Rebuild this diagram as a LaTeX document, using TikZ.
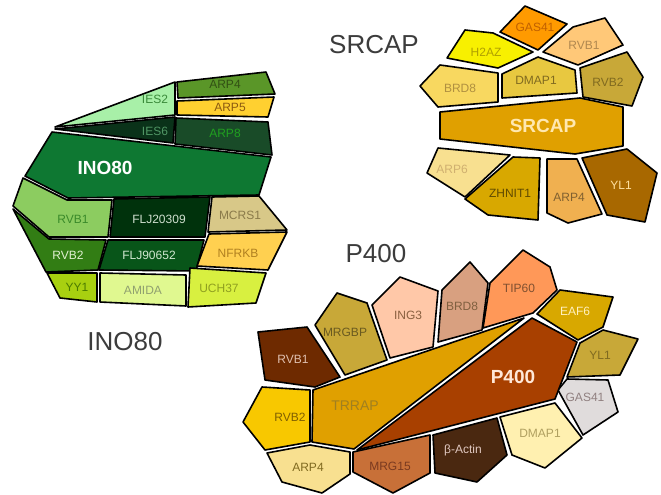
\documentclass[tikz,border=0pt]{standalone}
\usepackage{fontspec}
\setmainfont{Liberation Sans}
\definecolor{TitleGray}{RGB}{60,60,60}
% INO80 colours
\definecolor{PaleGreen}{RGB}{168,240,168}
\definecolor{LeafGreen}{RGB}{90,150,40}
\definecolor{Sun}{RGB}{255,208,48}
\definecolor{NightGreen}{RGB}{10,50,25}
\definecolor{PineGreen}{RGB}{25,75,40}
\definecolor{InoGreen}{RGB}{14,120,50}
\definecolor{SoftGreen}{RGB}{140,204,96}
\definecolor{DeepGreen}{RGB}{0,50,12}
\definecolor{Khaki}{RGB}{216,200,136}
\definecolor{GrassGreen}{RGB}{50,125,20}
\definecolor{ForestGreen}{RGB}{8,85,25}
\definecolor{Butter}{RGB}{255,208,80}
\definecolor{Lime}{RGB}{168,208,16}
\definecolor{PaleLime}{RGB}{224,248,144}
\definecolor{Chartreuse}{RGB}{216,240,64}
% SRCAP / P400 colours
\definecolor{Tangerine}{RGB}{255,154,0}
\definecolor{Lemon}{RGB}{248,240,0}
\definecolor{Apricot}{RGB}{255,200,120}
\definecolor{Straw}{RGB}{248,216,96}
\definecolor{Mustard}{RGB}{232,200,64}
\definecolor{Olive}{RGB}{200,168,56}
\definecolor{Amber}{RGB}{224,160,0}
\definecolor{Cream}{RGB}{248,224,144}
\definecolor{Gold}{RGB}{216,168,0}
\definecolor{Caramel}{RGB}{240,176,80}
\definecolor{Ochre}{RGB}{168,104,0}
\definecolor{Chestnut}{RGB}{110,42,0}
\definecolor{Peach}{RGB}{255,200,168}
\definecolor{Tan}{RGB}{216,160,128}
\definecolor{Coral}{RGB}{255,152,88}
\definecolor{Silver}{RGB}{224,220,220}
\definecolor{Vanilla}{RGB}{255,240,176}
\definecolor{Cocoa}{RGB}{74,40,16}
\definecolor{Copper}{RGB}{200,112,56}
\definecolor{Yolk}{RGB}{248,200,0}
\definecolor{Rust}{RGB}{168,64,0}
\tikzset{
  piece/.style={draw=black,line width=1.6pt,line join=round},
  tag/.style={font=\fontsize{12}{12}\selectfont,inner sep=0pt},
  hubtag/.style={font=\bfseries\fontsize{19}{19}\selectfont,text=white,inner sep=0pt},
  heading/.style={font=\fontsize{26}{26}\selectfont,text=TitleGray,inner sep=0pt}
}

\begin{document}
\begin{tikzpicture}[x=1pt,y=-1pt]
\useasboundingbox (0,0) rectangle (661,495);

% INO80 complex
\draw[piece,fill=PaleGreen](175,82)--(175,115)--(55,127)--cycle;
\draw[piece,fill=NightGreen](55,129)--(175,117)--(173,143)--cycle;
\draw[piece,fill=LeafGreen](177,82)--(266,72)--(275,94)--(178,98)--cycle;
\draw[piece,fill=Sun](177,101)--(274,97)--(268,117)--(177,115)--cycle;
\draw[piece,fill=PineGreen](176,118)--(268,122)--(272,155)--(175,144)--cycle;
\draw[piece,fill=InoGreen](52,132)--(271,157)--(259,195)--(68,198)--(25,176)--cycle;
\draw[piece,fill=SoftGreen](23,178)--(67,200)--(112,200)--(108,237)--(49,237)--(13,206)--cycle;
\draw[piece,fill=DeepGreen](114,199)--(210,197)--(205,237)--(110,237)--cycle;
\draw[piece,fill=Khaki](212,197)--(259,196)--(287,230)--(208,232)--cycle;
\draw[piece,fill=GrassGreen](13,209)--(49,239)--(106,240)--(98,270)--(46,272)--cycle;
\draw[piece,fill=ForestGreen](108,240)--(204,240)--(196,271)--(99,270)--cycle;
\draw[piece,fill=Butter](209,234)--(287,232)--(268,270)--(197,266)--cycle;
\draw[piece,fill=Lime](47,273)--(97,273)--(97,302)--(60,298)--cycle;
\draw[piece,fill=PaleLime](100,273)--(186,275)--(186,306)--(100,302)--cycle;
\draw[piece,fill=Chartreuse](190,268)--(266,273)--(256,303)--(188,307)--cycle;

\node[tag,text={rgb,255:red,58;green,138;blue,58}] (inoies2) at (155,99) {IES2};
\node[tag,text={rgb,255:red,50;green,80;blue,20}] (inoarp4) at (225,84) {ARP4};
\node[tag,text={rgb,255:red,140;green,90;blue,16}] (inoarp5) at (230,107) {ARP5};
\node[tag,text={rgb,255:red,80;green,150;blue,100}] (inoies6) at (155,131) {IES6};
\node[tag,text={rgb,255:red,32;green,160;blue,32}] (inoarp8) at (225,133) {ARP8};
\node[hubtag] (inohub) at (105,168) {INO80};
\node[tag,text={rgb,255:red,58;green,138;blue,42}] (inorvb1) at (73,219) {RVB1};
\node[tag,text={rgb,255:red,208;green,224;blue,208}] (inoflja) at (159,219) {FLJ20309};
\node[tag,text={rgb,255:red,138;green,122;blue,74}] (inomcrs) at (240,215) {MCRS1};
\node[tag,text={rgb,255:red,224;green,240;blue,208}] (inorvb2) at (68,255) {RVB2};
\node[tag,text={rgb,255:red,208;green,232;blue,208}] (inofljb) at (149,255) {FLJ90652};
\node[tag,text={rgb,255:red,176;green,128;blue,32}] (inonfrkb) at (238,253) {NFRKB};
\node[tag,text={rgb,255:red,74;green,122;blue,0}] (inoyy1) at (77,287) {YY1};
\node[tag,text={rgb,255:red,144;green,160;blue,112}] (inoamida) at (143,290) {AMIDA};
\node[tag,text={rgb,255:red,144;green,160;blue,32}] (inouch) at (219,288) {UCH37};

% SRCAP complex
\draw[piece,fill=Tangerine](500,32)--(525,6)--(567,24)--(538,50)--cycle;
\draw[piece,fill=Lemon](447,58)--(465,30)--(493,33)--(533,52)--(498,68)--cycle;
\draw[piece,fill=Apricot](543,52)--(573,27)--(605,18)--(623,45)--(578,65)--cycle;
\draw[piece,fill=Straw](420,86)--(440,65)--(498,73)--(498,102)--(438,107)--cycle;
\draw[piece,fill=Mustard](502,74)--(538,57)--(575,70)--(577,93)--(502,98)--cycle;
\draw[piece,fill=Olive](580,68)--(627,52)--(643,77)--(632,106)--(583,97)--cycle;
\draw[piece,fill=Amber](440,112)--(580,98)--(623,107)--(623,146)--(575,154)--(440,139)--cycle;
\draw[piece,fill=Cream](438,148)--(510,155)--(465,197)--(427,173)--cycle;
\draw[piece,fill=Gold](513,157)--(540,158)--(538,220)--(488,215)--(465,199)--cycle;
\draw[piece,fill=Caramel](547,159)--(577,159)--(602,214)--(568,223)--(547,213)--cycle;
\draw[piece,fill=Ochre](582,158)--(627,149)--(657,173)--(645,222)--(607,215)--cycle;

\node[tag,text={rgb,255:red,192;green,96;blue,0}] (srgas41) at (535,27) {GAS41};
\node[tag,text={rgb,255:red,176;green,160;blue,0}] (srh2az) at (486,52) {H2AZ};
\node[tag,text={rgb,255:red,176;green,136;blue,80}] (srrvb1) at (584,45) {RVB1};
\node[tag,text={rgb,255:red,176;green,144;blue,64}] (srbrd8) at (460,88) {BRD8};
\node[tag,text={rgb,255:red,128;green,106;blue,32}] (srdmap1) at (536,80) {DMAP1};
\node[tag,text={rgb,255:red,128;green,106;blue,32}] (srrvb2) at (608,82) {RVB2};
\node[hubtag,text={rgb,255:red,255;green,232;blue,176}] (srhub) at (543,126) {SRCAP};
\node[tag,text={rgb,255:red,208;green,176;blue,112}] (srarp6) at (452,169) {ARP6};
\node[tag,text={rgb,255:red,96;green,74;blue,0}] (srzhnit) at (510,193) {ZHNIT1};
\node[tag,text={rgb,255:red,128;green,96;blue,48}] (srarp4) at (569,197) {ARP4};
\node[tag,text={rgb,255:red,255;green,224;blue,160}] (sryl1) at (621,185) {YL1};

% P400 complex
\draw[piece,fill=Chestnut](258,332)--(307,327)--(340,377)--(315,387)--(265,380)--cycle;
\draw[piece,fill=Olive](315,325)--(337,293)--(367,303)--(387,360)--(345,375)--cycle;
\draw[piece,fill=Peach](372,305)--(400,277)--(438,291)--(433,347)--(390,358)--cycle;
\draw[piece,fill=Tan](442,290)--(470,262)--(488,283)--(482,330)--(438,342)--cycle;
\draw[piece,fill=Coral](490,283)--(523,250)--(550,267)--(557,290)--(533,313)--(483,328)--cycle;
\draw[piece,fill=Gold](537,314)--(560,290)--(613,297)--(603,327)--(578,340)--cycle;
\draw[piece,fill=Olive](580,343)--(603,330)--(638,339)--(620,375)--(567,377)--cycle;
\draw[piece,fill=Silver](558,390)--(567,379)--(608,380)--(618,412)--(583,435)--cycle;
\draw[piece,fill=Vanilla](500,417)--(555,403)--(582,438)--(545,468)--(512,455)--cycle;
\draw[piece,fill=Cocoa](433,435)--(497,418)--(507,455)--(477,482)--(435,473)--cycle;
\draw[piece,fill=Copper](353,452)--(430,435)--(430,473)--(393,493)--(353,472)--cycle;
\draw[piece,fill=Cream](267,453)--(310,445)--(350,452)--(350,474)--(322,493)--(282,482)--cycle;
\draw[piece,fill=Yolk](243,422)--(262,387)--(310,390)--(310,442)--(265,450)--cycle;
\draw[piece,fill=Amber](313,390)--(524,318)--(354,449)--(312,442)--cycle;
\draw[piece,fill=Rust](357,450)--(532,318)--(577,342)--(555,399)--cycle;

\node[tag,text={rgb,255:red,224;green,192;blue,176}] (prvb1) at (293,359) {RVB1};
\node[tag,text={rgb,255:red,106;green,90;blue,32}] (pmrgbp) at (345,332) {MRGBP};
\node[tag,text={rgb,255:red,138;green,96;blue,64}] (ping3) at (408,315) {ING3};
\node[tag,text={rgb,255:red,128;green,96;blue,64}] (pbrd8) at (462,306) {BRD8};
\node[tag,text={rgb,255:red,128;green,80;blue,48}] (ptip60) at (519,288) {TIP60};
\node[tag,text={rgb,255:red,255;green,240;blue,192}] (peaf6) at (575,311) {EAF6};
\node[tag,text={rgb,255:red,128;green,106;blue,32}] (pyl1) at (600,355) {YL1};
\node[tag,text={rgb,255:red,144;green,128;blue,128}] (pgas41) at (585,397) {GAS41};
\node[tag,text={rgb,255:red,176;green,160;blue,96}] (pdmap1) at (540,433) {DMAP1};
\node[tag,text={rgb,255:red,224;green,200;blue,192}] (pactin) at (463,450) {β-Actin};
\node[tag,text={rgb,255:red,122;green,58;blue,32}] (pmrg15) at (390,466) {MRG15};
\node[tag,text={rgb,255:red,128;green,106;blue,32}] (parp4) at (308,467) {ARP4};
\node[tag,text={rgb,255:red,128;green,96;blue,0}] (prvb2) at (290,417) {RVB2};
\node[tag,font=\fontsize{14}{14}\selectfont,text={rgb,255:red,160;green,128;blue,32}] (ptrrap) at (355,406) {TRRAP};
\node[hubtag,text={rgb,255:red,255;green,232;blue,216}] (phub) at (513,377) {P400};

% complex names
\node[heading] (srcaptitle) at (374,45) {SRCAP};
\node[heading] (inotitle) at (125,342) {INO80};
\node[heading] (p400title) at (376,254) {P400};
\end{tikzpicture}
\end{document}
